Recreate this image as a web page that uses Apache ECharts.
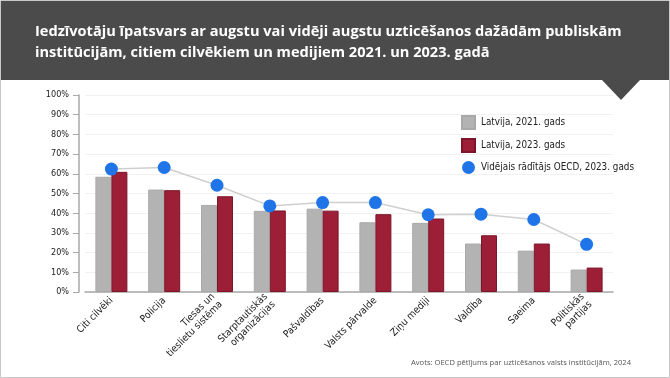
<!DOCTYPE html>
<html>
<head>
<meta charset="utf-8">
<script src="https://cdn.jsdelivr.net/npm/echarts@6/dist/echarts.min.js"></script>
<style>
html,body{margin:0;padding:0;background:#fff;}
#c{width:670px;height:378px;}
</style>
</head>
<body>
<div id="c"></div>
<script>
const categories = ["Citi cilvēki", "Policija", "Tiesas un\ntieslietu sistēma", "Starptautiskās\norganizācijas", "Pašvaldības", "Valsts pārvalde", "Ziņu mediji", "Valdība", "Saeima", "Politiskās\npartijas"];
const latvia2021 = [58.5, 52.0, 44.2, 41.2, 42.3, 35.4, 35.1, 24.6, 21.0, 11.4];
const latvia2023 = [61.0, 51.7, 48.6, 41.4, 41.3, 39.5, 37.3, 28.8, 24.6, 12.4];
const oecd2023 = [62.4, 63.2, 54.2, 43.7, 45.4, 45.4, 39.2, 39.5, 36.8, 24.2];
const yTicks = [0, 10, 20, 30, 40, 50, 60, 70, 80, 90, 100];
const seriesNames = ["Latvija, 2021. gads", "Latvija, 2023. gads", "Vidējais rādītājs OECD, 2023. gads"];
const titleText = "Iedzīvotāju īpatsvars ar augstu vai vidēji augstu uzticēšanos dažādām publiskām\ninstitūcijām, citiem cilvēkiem un medijiem 2021. un 2023. gadā";
const sourceText = "Avots: OECD pētījums par uzticēšanos valsts institūcijām, 2024";

const narrow = "'Liberation Sans Narrow', 'DejaVu Sans Condensed', 'Roboto Condensed', sans-serif";
const chart = echarts.init(document.getElementById('c'), null, {renderer: 'canvas'});
chart.setOption({
  animation: false,
  backgroundColor: '#ffffff',
  graphic: [
    {type: 'rect', z: -10, shape: {x: 0.5, y: 0.5, width: 669, height: 377}, style: {fill: '#fff', stroke: '#c9c9c9', lineWidth: 1}},
    {type: 'rect', z: -5, shape: {x: 1, y: 1, width: 668, height: 79}, style: {fill: '#4b4b4b'}},
    {type: 'polygon', z: -5, shape: {points: [[602, 80], [640, 80], [621, 100]]}, style: {fill: '#4b4b4b'}}
  ],
  title: [
    {
      text: titleText, left: 35, top: 21, padding: 0,
      textStyle: {color: '#ffffff', fontSize: 14.6, fontWeight: 'bold', lineHeight: 21, fontFamily: "'Open Sans', 'Noto Sans', sans-serif"}
    },
    {
      text: sourceText, right: 39, top: 359, padding: 0,
      textStyle: {color: '#555', fontSize: 7.6, fontWeight: 'normal', fontFamily: "'Open Sans', 'Noto Sans', sans-serif"}
    }
  ],
  legend: {
    orient: 'vertical', left: 456, top: 110, itemWidth: 13, itemHeight: 13, itemGap: 8,
    textStyle: {fontSize: 9.8, color: '#222', fontFamily: narrow, padding: [0, 0, 0, 1]},
    data: [
      {name: seriesNames[0], icon: 'rect'},
      {name: seriesNames[1], icon: 'rect'},
      {name: seriesNames[2], icon: 'circle'}
    ]
  },
  grid: {left: 85, right: 57, top: 95, bottom: 86, containLabel: false},
  xAxis: {
    type: 'category', data: categories,
    axisLine: {lineStyle: {color: '#a8a8a8', width: 1.5}},
    axisTick: {show: false},
    axisLabel: {rotate: 45, fontSize: 10, color: '#222', fontFamily: narrow, margin: 7, lineHeight: 11, interval: 0}
  },
  yAxis: {
    type: 'value', min: 0, max: 100, interval: 10, offset: 6,
    axisLine: {show: true, lineStyle: {color: '#a8a8a8', width: 1.5}},
    axisTick: {show: true, length: 6, lineStyle: {color: '#a8a8a8'}},
    axisLabel: {formatter: v => yTicks.includes(v) ? v + '%' : '', fontSize: 9, color: '#222', fontFamily: narrow, margin: 10},
    splitLine: {lineStyle: {color: '#f1f1f1', width: 1}}
  },
  series: [
    {
      name: seriesNames[0], type: 'bar', data: latvia2021, barWidth: 16, barGap: '0%',
      itemStyle: {color: '#b3b3b3', borderColor: '#a9a9a9', borderWidth: 1}
    },
    {
      name: seriesNames[1], type: 'bar', data: latvia2023, barWidth: 16,
      itemStyle: {color: '#9c1f37', borderColor: '#7c1529', borderWidth: 1}
    },
    {
      name: seriesNames[2], type: 'line', data: oecd2023, symbol: 'circle', symbolSize: 13,
      lineStyle: {color: '#cfcfcf', width: 1.5},
      itemStyle: {color: '#1f74e8'}, z: 5
    }
  ]
});
</script>
</body>
</html>
